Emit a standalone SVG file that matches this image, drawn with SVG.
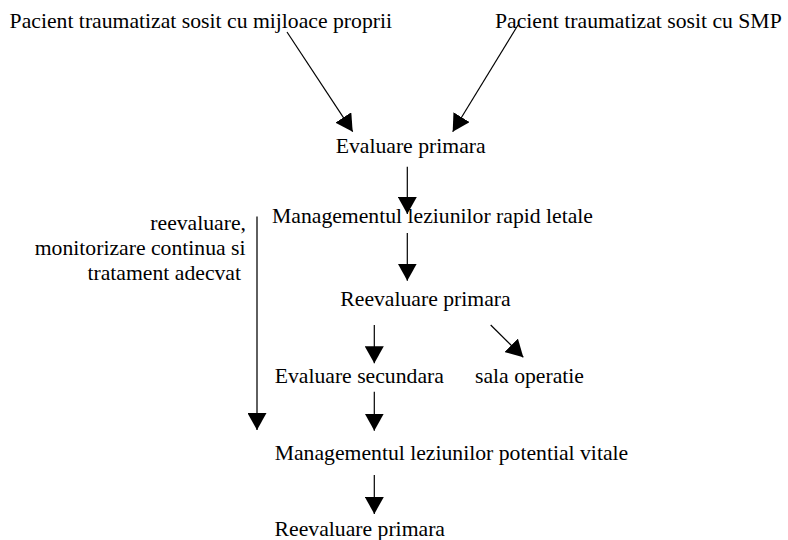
<svg xmlns="http://www.w3.org/2000/svg" width="788" height="540" viewBox="0 0 788 540">
  <style>
    text { font-family: "Times New Roman", "Liberation Serif", Tinos, "Nimbus Roman", serif; font-size: 21.7px; fill: #000; }
    .end { text-anchor: end; }
    .edge { stroke: #000; stroke-width: 1.2; fill: none; marker-end: url(#head); }
    .side { stroke: #444; stroke-width: 1.7; fill: none; marker-end: url(#head); }
  </style>
  <defs>
    <marker id="head" markerUnits="userSpaceOnUse" markerWidth="18" markerHeight="19" viewBox="0 0 18 19" refX="17" refY="9.5" orient="auto">
      <path d="M0,0 L17,9.5 L0,19 z" fill="#000"/>
    </marker>
  </defs>
  <rect width="788" height="540" fill="#fff"/>

  <g id="connectors">
    <line class="edge" x1="287" y1="32" x2="352.7" y2="131.7"/>
    <line class="edge" x1="518" y1="25" x2="452.7" y2="131.7"/>
    <line class="edge" x1="407.3" y1="166.7" x2="407.3" y2="214"/>
    <line class="edge" x1="407.3" y1="233" x2="407.3" y2="280.7"/>
    <line class="edge" x1="374.3" y1="325" x2="374.3" y2="363.3"/>
    <line class="edge" x1="490.7" y1="325" x2="523.3" y2="357.3"/>
    <line class="edge" x1="374.3" y1="391.7" x2="374.3" y2="430.7"/>
    <line class="edge" x1="374.3" y1="475" x2="374.3" y2="514"/>
    <line class="side" x1="257" y1="216.5" x2="257" y2="430"/>
  </g>

  <g id="start-own">
    <text x="9.6" y="28">Pacient traumatizat sosit cu mijloace proprii</text>
  </g>
  <g id="start-smp">
    <text x="495" y="28">Pacient traumatizat sosit cu SMP</text>
  </g>
  <g id="primary-eval">
    <text x="335.7" y="152.5">Evaluare primara</text>
  </g>
  <g id="lethal-mgmt">
    <text x="272" y="223">Managementul leziunilor rapid letale</text>
  </g>
  <g id="primary-reeval">
    <text x="340.3" y="306">Reevaluare primara</text>
  </g>
  <g id="secondary-eval">
    <text x="274.7" y="382.7">Evaluare secundara</text>
  </g>
  <g id="operating-room">
    <text x="475" y="382.7">sala operatie</text>
  </g>
  <g id="vital-mgmt">
    <text x="274.7" y="460">Managementul leziunilor potential vitale</text>
  </g>
  <g id="primary-reeval-final">
    <text x="274.6" y="536">Reevaluare primara</text>
  </g>
  <g id="monitoring">
    <text class="end" x="246" y="230">reevaluare,</text>
    <text class="end" x="245.5" y="255">monitorizare continua si</text>
    <text class="end" x="241" y="280">tratament adecvat</text>
  </g>
</svg>
